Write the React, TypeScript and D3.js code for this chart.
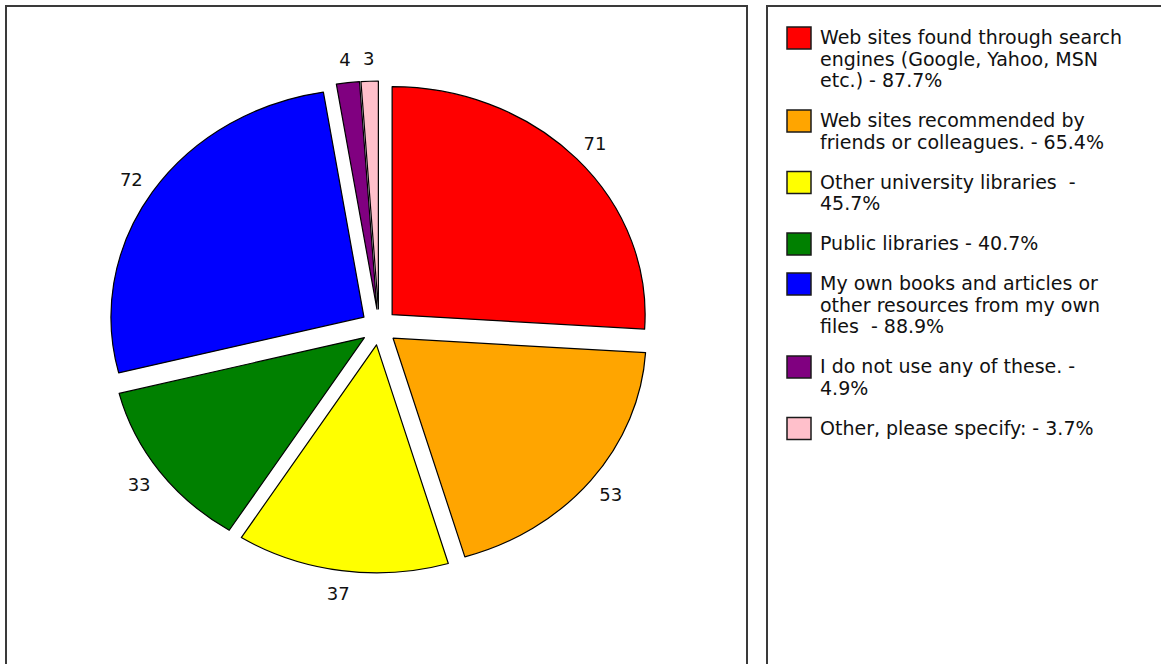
import React from "react";
import * as d3 from "d3";

const categories = [
  "Web sites found through search engines (Google, Yahoo, MSN etc.)",
  "Web sites recommended by friends or colleagues.",
  "Other university libraries ",
  "Public libraries",
  "My own books and articles or other resources from my own files ",
  "I do not use any of these.",
  "Other, please specify:",
];
const counts = [71, 53, 37, 33, 72, 4, 3];
const percents = ["87.7%", "65.4%", "45.7%", "40.7%", "88.9%", "4.9%", "3.7%"];
const colors = ["#FF0000", "#FFA500", "#FFFF00", "#008000", "#0000FF", "#800080", "#FFC0CB"];
const legendLines = [
  ["Web sites found through search", "engines (Google, Yahoo, MSN", "etc.) - 87.7%"],
  ["Web sites recommended by", "friends or colleagues. - 65.4%"],
  ["Other university libraries  -", "45.7%"],
  ["Public libraries - 40.7%"],
  ["My own books and articles or", "other resources from my own", "files  - 88.9%"],
  ["I do not use any of these. -", "4.9%"],
  ["Other, please specify: - 3.7%"],
];

const W = 1161;
const H = 664;
const cx = 379;
const cy = 327;
const rx = 253;
const ry = 228;
const explode = 18;
const labelK = 1.1;
const FONT = "Verdana, 'DejaVu Sans', sans-serif";

export default function App() {
  const data = counts.map((v, i) => ({ v, i, name: categories[i], pct: percents[i] }));
  const pie = d3.pie<any>().sort(null).value((d: any) => d.v).startAngle(0).endAngle(2 * Math.PI);
  const arcs = pie(data);
  const arc = d3.arc<any>().innerRadius(0).outerRadius(ry);

  const lineH = 21.5;
  const gap = 18.5;
  let yCursor = 44;
  const legendItems = legendLines.map((lines, i) => {
    const y0 = yCursor;
    yCursor += lines.length * lineH + gap;
    return { lines, y0, i };
  });

  return (
    <svg width={W} height={H} style={{ position: "absolute", left: 0, top: 0, background: "#fff" }}>
      <rect x={0} y={0} width={W} height={H} fill="#fff" />
      {/* panels */}
      <rect x={6} y={6} width={741} height={700} fill="#fff" stroke="#3a3a3a" strokeWidth={2} />
      <rect x={767} y={6} width={420} height={700} fill="#fff" stroke="#3a3a3a" strokeWidth={2} />

      {/* pie */}
      {arcs.map((a, k) => {
        const mid = (a.startAngle + a.endAngle) / 2;
        const tx = cx + explode * Math.sin(mid);
        const ty = cy - explode * Math.cos(mid);
        return (
          <g key={k} transform={`translate(${tx},${ty}) scale(${rx / ry},1)`}>
            <path
              d={arc(a) as string}
              fill={colors[k]}
              stroke="#000"
              strokeWidth={1.2}
              strokeLinejoin="round"
              style={{ vectorEffect: "non-scaling-stroke" } as any}
            />
          </g>
        );
      })}
      {arcs.map((a, k) => {
        const mid = (a.startAngle + a.endAngle) / 2;
        const tx = cx + explode * Math.sin(mid) + labelK * rx * Math.sin(mid);
        const ty = cy - explode * Math.cos(mid) - labelK * ry * Math.cos(mid);
        return (
          <text
            key={"l" + k}
            x={tx}
            y={ty}
            textAnchor="middle"
            dominantBaseline="central"
            fontFamily={FONT}
            fontSize={18}
            fill="#111"
          >
            {a.data.v}
          </text>
        );
      })}

      {/* legend */}
      {legendItems.map(({ lines, y0, i }) => (
        <g key={"lg" + i}>
          <rect x={787} y={y0 - 17} width={24} height={22} fill={colors[i]} stroke="#1a1a1a" strokeWidth={1.5} />
          {lines.map((ln, j) => (
            <text
              key={j}
              x={820}
              y={y0 + j * lineH}
              fontFamily={FONT}
              fontSize={19}
              fill="#111"
              style={{ whiteSpace: "pre" }}
            >
              {ln}
            </text>
          ))}
        </g>
      ))}
    </svg>
  );
}
